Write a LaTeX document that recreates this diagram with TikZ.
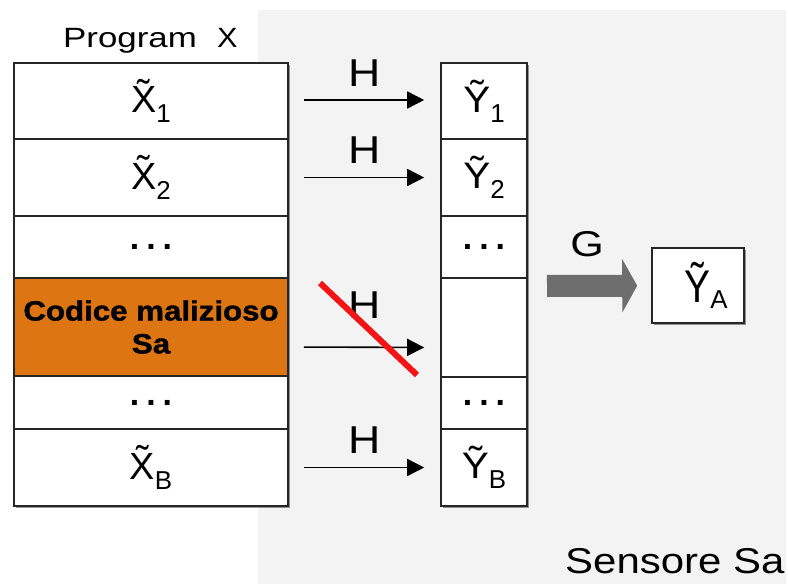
\documentclass[tikz,border=0pt]{standalone}
\usepackage{fontspec}
\usepackage{graphicx}
\setmainfont{Liberation Sans}
\newfontfamily\heavyfont[FakeBold=1.3]{Liberation Sans Bold}
\usetikzlibrary{arrows.meta,shadows}
\definecolor{bggray}{RGB}{243,243,243}
\definecolor{orng}{RGB}{221,117,18}
\definecolor{garr}{RGB}{110,110,110}
\definecolor{strike}{RGB}{245,20,20}
\newcommand\sx[2]{\scalebox{#1}[1]{#2}}
\newcommand\xt[1]{{\fontsize{38}{38}\selectfont X̃}\raisebox{-10bp}{\fontsize{26}{26}\selectfont #1}}
\newcommand\yt[1]{{\fontsize{37}{37}\selectfont\sx{1.1}{Ỹ}}\raisebox{-10bp}{\fontsize{26}{26}\selectfont #1}}
\newcommand\dd{{\fontsize{34}{34}\selectfont\bfseries .\hspace{7bp}.\hspace{7bp}.}}
\begin{document}
\begin{tikzpicture}[x=1bp,y=-1bp,
  cell/.style={draw=black!85, line width=1.6bp, fill=white, inner sep=0pt,
    drop shadow={shadow xshift=2bp, shadow yshift=-2bp, opacity=0.4, fill=black}},
  lcell/.style={cell, minimum width=274bp},
  rcell/.style={cell, minimum width=86bp},
  harrow/.style={draw=black, line width=1.6bp, -{Triangle[length=17bp,width=17bp]},
    shorten <=15bp, shorten >=16bp},
  hlab/.style={midway, above=13bp, inner sep=0pt, font=\fontsize{39}{39}\selectfont},
  garrow/.style={draw=garr, line width=22bp, -{Triangle[length=15bp,width=53bp]}, shorten >=14bp},
  txt/.style={inner sep=0pt, anchor=base west}
]
\useasboundingbox (0,0) rectangle (788,584);
\fill[bggray] (258,10) rectangle (786,584);

% titles
\node[txt, font=\fontsize{28}{28}\selectfont] (prog) at (63,48) {\sx{1.25}{Program}};
\node[txt, font=\fontsize{28}{28}\selectfont] (progx) at (217,48) {\sx{1.1}{X}};
\node[txt, font=\fontsize{36}{36}\selectfont] (sens) at (565,573) {\sx{1.17}{Sensore Sa}};

% left column
\node[lcell, minimum height=76bp] (x1) at (151,101) {\xt{1}};
\node[lcell, minimum height=77bp] (x2) at (151,177.5) {\xt{2}};
\node[lcell, minimum height=62bp] (ld1) at (151,247) {\dd};
\node[lcell, fill=orng, minimum height=98bp, align=center,
  font=\fontsize{28}{33}\selectfont\heavyfont] (mal) at (151,327)
  {\sx{1.12}{Codice malizioso}\\\sx{1.12}{Sa}};
\node[lcell, minimum height=53bp] (ld2) at (151,402.5) {\dd};
\node[lcell, minimum height=77bp] (xb) at (151,467.5) {\xt{B}};

% right column
\node[rcell, minimum height=76bp] (y1) at (484,101) {\yt{1}};
\node[rcell, minimum height=77bp] (y2) at (484,177.5) {\yt{2}};
\node[rcell, minimum height=62bp] (rd1) at (484,247) {\dd};
\node[rcell, minimum height=99bp] (ym) at (484,327.5) {};
\node[rcell, minimum height=52bp] (rd2) at (484,403) {\dd};
\node[rcell, minimum height=77bp] (yb) at (484,467.5) {\yt{B}};

% H arrows
\draw[harrow] ([yshift=1bp]x1.east) -- node[hlab] (h1) {\sx{1.15}{H}} ([yshift=1bp]y1.west);
\draw[harrow] (x2.east) -- node[hlab] (h2) {\sx{1.15}{H}} (y2.west);
\draw[harrow] ([yshift=-20bp]mal.east) -- node[hlab, above=15bp] (h3) {\sx{1.15}{H}} ([yshift=-20bp]ym.west);
\draw[harrow] (xb.east) -- node[hlab] (hb) {\sx{1.15}{H}} (yb.west);

% strike
\coordinate (s1) at (320,283);
\coordinate (s2) at (417,375);
\draw[strike, line width=6bp] (s1) -- (s2);

% Y_A box and G arrow
\node[cell, minimum width=92bp, minimum height=75bp] (ya) at (698,285.5)
  {\hspace*{16bp}{\fontsize{46}{46}\selectfont\sx{0.85}{Ỹ}}\raisebox{-6bp}{\fontsize{26}{26}\selectfont A}};
\coordinate (gs) at (547,286);
\draw[garrow] (gs) -- (ya);
\node[inner sep=0pt, font=\fontsize{36}{36}\selectfont] (g) at (587,244) {\sx{1.2}{G}};
\end{tikzpicture}
\end{document}
